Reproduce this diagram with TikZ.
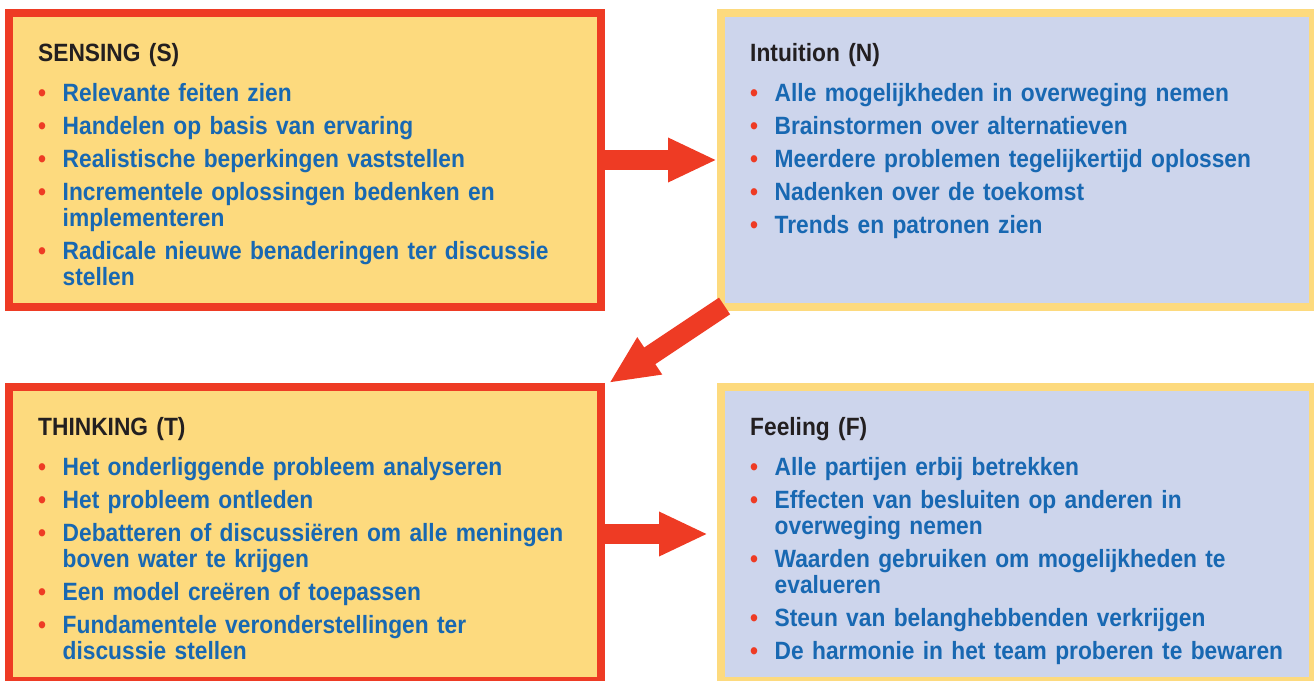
\documentclass[tikz,border=0pt]{standalone}
\usepackage{fontspec}
\setmainfont{Liberation Sans}[FakeStretch=0.91]
\usetikzlibrary{arrows.meta,calc}
\definecolor{byellow}{HTML}{FDDA7E}
\definecolor{bred}{HTML}{EE3B24}
\definecolor{bblue}{HTML}{CDD5EC}
\definecolor{tblue}{HTML}{1868B2}
\definecolor{tdark}{HTML}{231F20}
\newcommand{\bitem}[1]{\par\hangindent=24.5pt\hangafter=1\noindent\makebox[24.5pt][l]{\color{bred}\textbullet}{\color{tblue}#1}\par}
\newcommand{\btitle}[1]{\setlength{\parskip}{7pt}\noindent{\color{tdark}#1}\par\vspace{7pt}}
\tikzset{
  sbox/.style={draw=bred, fill=byellow, line width=8pt, minimum width=592pt, minimum height=294pt, inner sep=0pt},
  nbox/.style={draw=byellow, fill=bblue, line width=8pt, minimum width=592pt, minimum height=294pt, inner sep=0pt},
  btext/.style={anchor=base west, inner sep=0pt, text width=560pt, align=left, font=\fontsize{25pt}{26pt}\selectfont\bfseries},
  bigarrow/.style={draw=bred, line width=20pt, -{Triangle[length=49pt,width=41pt]}}
}
\begin{document}
\begin{tikzpicture}[x=1pt,y=-1pt]
\useasboundingbox (0,0) rectangle (1314,680);
\clip (0,0) rectangle (1314,680);
\node[sbox] (tl) at (305,160) {};
\node[nbox] (tr) at (1017,160) {};
\node[sbox] (bl) at (305,534) {};
\node[nbox] (br) at (1017,534) {};

\node[btext] (tltext) at ($(tl.north west)+(33,52)$) {%
\btitle{SENSING (S)}%
\bitem{Relevante feiten zien}
\bitem{Handelen op basis van ervaring}
\bitem{Realistische beperkingen vaststellen}
\bitem{Incrementele oplossingen bedenken en\newline implementeren}
\bitem{Radicale nieuwe benaderingen ter discussie\newline stellen}};

\node[btext] (trtext) at ($(tr.north west)+(33,52)$) {%
\btitle{Intuition (N)}%
\bitem{Alle mogelijkheden in overweging nemen}
\bitem{Brainstormen over alternatieven}
\bitem{Meerdere problemen tegelijkertijd oplossen}
\bitem{Nadenken over de toekomst}
\bitem{Trends en patronen zien}};

\node[btext] (bltext) at ($(bl.north west)+(33,52)$) {%
\btitle{THINKING (T)}%
\bitem{Het onderliggende probleem analyseren}
\bitem{Het probleem ontleden}
\bitem{Debatteren of discussiëren om alle meningen\newline boven water te krijgen}
\bitem{Een model creëren of toepassen}
\bitem{Fundamentele veronderstellingen ter\newline discussie stellen}};

\node[btext] (brtext) at ($(br.north west)+(33,52)$) {%
\btitle{Feeling (F)}%
\bitem{Alle partijen erbij betrekken}
\bitem{Effecten van besluiten op anderen in\newline overweging nemen}
\bitem{Waarden gebruiken om mogelijkheden te\newline evalueren}
\bitem{Steun van belanghebbenden verkrijgen}
\bitem{De harmonie in het team proberen te bewaren}};

\draw[bigarrow] (tl.east) -- (tr.west);
\draw[bigarrow] ($(tr.south west)+(7.5,-5)$) -- ($(bl.north east)+(4,0)$);
\draw[bigarrow, shorten >=9pt] (bl.east) -- (br.west);
\end{tikzpicture}
\end{document}
